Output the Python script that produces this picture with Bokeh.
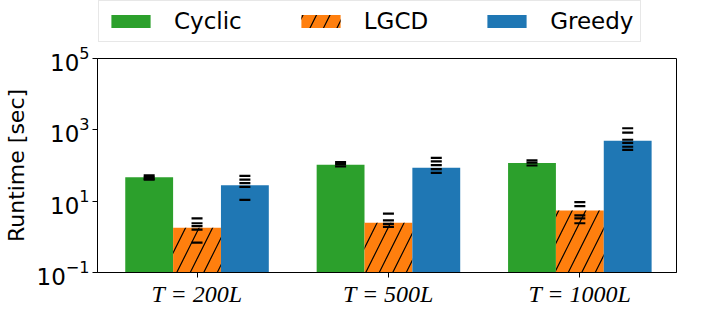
from bokeh.plotting import figure
from bokeh.models import Range1d, FixedTicker, Legend, LegendItem
from bokeh.layouts import column
from bokeh.embed import file_html
from bokeh.resources import INLINE

# ---- data ----
groups = ["T = 200L", "T = 500L", "T = 1000L"]
methods = ["Cyclic", "LGCD", "Greedy"]
cyclic = [47, 105, 118]
lgcd = [1.8, 2.5, 5.5]
greedy = [28, 86, 497]
cyclic_runs = [[53, 47, 42, 40], [125, 110, 95], [140, 120, 100]]
lgcd_runs = [[3.3, 2.4, 2.0, 1.6, 0.69], [4.5, 2.9, 2.3, 1.9], [9.4, 7.3, 4.0, 3.3, 2.4]]
greedy_runs = [[51, 40, 32, 25, 10.8], [163, 131, 103, 79, 62], [1107, 836, 527, 433, 335, 273]]
y_ticks = [0.1, 10, 1000, 100000]
y_tick_labels = ["10\u207b\u00b9", "10\u00b9", "10\u00b3", "10\u2075"]

colors = ["#2ca02c", "#ff7f0e", "#1f77b4"]
hatches = [" ", "/", " "]
bar_w = 0.25
W = 686

# ---- legend strip (separate figure above the chart) ----
leg_fig = figure(width=W, height=43, x_range=Range1d(0, 1), y_range=Range1d(0, 1),
                 output_backend="svg", toolbar_location=None,
                 x_axis_location=None, y_axis_location=None,
                 min_border=0, outline_line_color=None)
leg_fig.grid.visible = False

# ---- main chart ----
p = figure(width=W, height=266, y_axis_type="log",
           x_range=Range1d(-0.52, 2.505), y_range=Range1d(0.1, 1e5),
           output_backend="svg", toolbar_location=None,
           min_border_left=89, min_border_right=10,
           min_border_top=15, min_border_bottom=35)

all_vals = [cyclic, lgcd, greedy]
all_runs = [cyclic_runs, lgcd_runs, greedy_runs]
items = []
for i, (name, vals, runs) in enumerate(zip(methods, all_vals, all_runs)):
    off = (i - 1) * bar_w
    xs = [g + off for g in range(len(groups))]
    kw = {}
    if hatches[i] != " ":
        kw = dict(hatch_pattern=hatches[i], hatch_color="black",
                  hatch_scale=27, hatch_weight=1.2)
    p.vbar(x=xs, top=vals, bottom=0.01, width=bar_w, fill_color=colors[i],
           line_color=None, **kw)
    # off-screen proxy so that the legend strip can draw the swatch
    lr = leg_fig.vbar(x=[-5], top=[-5], bottom=[-6], width=bar_w,
                      fill_color=colors[i], line_color=None, **kw)
    items.append(LegendItem(label=name, renderers=[lr]))
    sx, sy = [], []
    for g, rl in enumerate(runs):
        for v in rl:
            sx.append(g + off)
            sy.append(v)
    p.scatter(x=sx, y=sy, marker="dash", size=11, line_color="black",
              line_width=2.2)

p.grid.visible = False
p.outline_line_color = "black"
p.outline_line_width = 1
p.outline_line_alpha = 1

# x axis
p.xaxis.ticker = FixedTicker(ticks=list(range(len(groups))))
p.xaxis.major_label_overrides = {i: g for i, g in enumerate(groups)}
p.xaxis.major_label_text_font = "Liberation Serif"
p.xaxis.major_label_text_font_style = "italic"
p.xaxis.major_label_text_font_size = "24px"
p.xaxis.major_label_text_color = "black"

# y axis
p.yaxis.ticker = FixedTicker(ticks=y_ticks, minor_ticks=[])
p.yaxis.major_label_overrides = {t: l for t, l in zip(["0.1", "10", "1000", "100000"], y_tick_labels)}
p.yaxis.major_label_text_font = "DejaVu Sans"
p.yaxis.major_label_text_font_size = "23px"
p.yaxis.major_label_text_color = "black"
p.yaxis.axis_label = "Runtime [sec]"
p.yaxis.axis_label_text_font = "DejaVu Sans"
p.yaxis.axis_label_text_font_style = "normal"
p.yaxis.axis_label_text_font_size = "22px"
p.yaxis.axis_label_text_color = "black"
p.yaxis.axis_label_standoff = 5

for ax in (p.xaxis, p.yaxis):
    ax.axis_line_color = "black"
    ax.major_tick_line_color = "black"
    ax.major_tick_out = 5
    ax.major_tick_in = 0
    ax.minor_tick_line_color = None
    ax.major_label_standoff = 3

lg = Legend(items=items, orientation="horizontal", location=(1, 1))
lg.label_text_font = "DejaVu Sans"
lg.label_text_font_size = "23px"
lg.label_text_color = "black"
lg.glyph_width = 49
lg.glyph_height = 16
lg.label_standoff = 19
lg.spacing = 54
lg.padding = 7
lg.margin = 0
lg.border_line_color = "#d0d0d0"
lg.border_line_width = 1
lg.background_fill_alpha = 0.85
leg_fig.add_layout(lg, "center")

layout = column(leg_fig, p, spacing=0)
open("out.html", "w").write(file_html(layout, INLINE))
